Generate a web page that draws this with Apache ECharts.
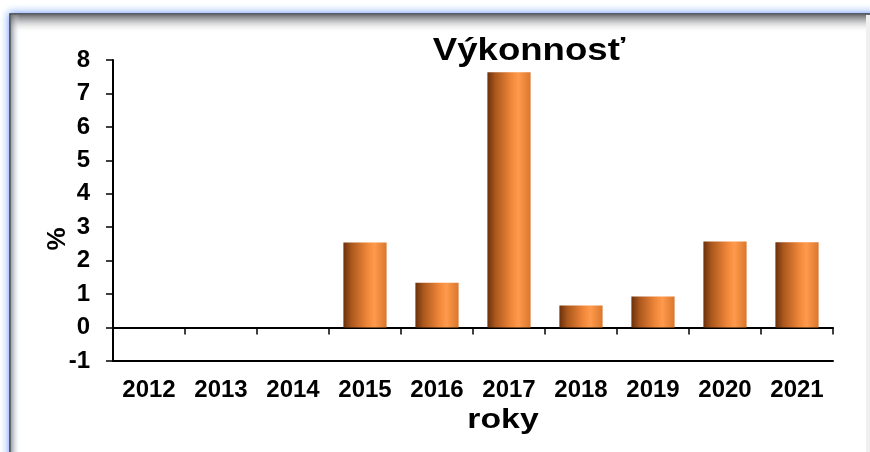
<!DOCTYPE html>
<html><head><meta charset="utf-8">
<script src="https://cdn.jsdelivr.net/npm/echarts@6/dist/echarts.min.js"></script>
<style>html,body{margin:0;padding:0;background:#fff}#c{width:870px;height:452px}</style>
</head><body><div id="c"></div>
<script>
var years = ['2012','2013','2014','2015','2016','2017','2018','2019','2020','2021'];
var vykonnost = [0, 0, 0, 2.54, 1.34, 7.63, 0.66, 0.93, 2.57, 2.55];
var yTicks = [-1, 0, 1, 2, 3, 4, 5, 6, 7, 8];
var titleText = 'Výkonnosť';
var xName = 'roky';
var yName = '%';

var chart = echarts.init(document.getElementById('c'), null, {renderer: 'canvas'});
var font = 'Arial, "Liberation Sans", sans-serif';
var barGrad = new echarts.graphic.LinearGradient(0, 0, 1, 0, [
  {offset: 0, color: '#6a300c'},
  {offset: 0.18, color: '#a9561c'},
  {offset: 0.55, color: '#f0873a'},
  {offset: 0.72, color: '#ff9a4c'},
  {offset: 1, color: '#d9772e'}
]);
chart.setOption({
  animation: false,
  graphic: [
    {type: 'rect', z: -10, shape: {x: 10, y: 14, width: 880, height: 460},
     style: {fill: '#fff', stroke: '#3a3a3a', lineWidth: 1.5, shadowBlur: 8, shadowColor: 'rgba(90,140,255,0.95)'}},
    {type: 'rect', z: -9, shape: {x: 11, y: 15, width: 880, height: 18},
     style: {fill: new echarts.graphic.LinearGradient(0, 0, 0, 1, [
       {offset: 0, color: 'rgba(100,100,100,0.9)'}, {offset: 1, color: 'rgba(255,255,255,0)'}])}},
    {type: 'rect', z: -9, shape: {x: 11, y: 15, width: 9, height: 460},
     style: {fill: new echarts.graphic.LinearGradient(0, 0, 1, 0, [
       {offset: 0, color: 'rgba(110,110,110,0.6)'}, {offset: 1, color: 'rgba(255,255,255,0)'}])}},
    {type: 'rect', z: -9, shape: {x: 866, y: 15, width: 4, height: 440},
     style: {fill: '#f0f0f0'}},
    {type: 'text', z: 10, x: 529, y: 51, scaleX: 1.18, originX: 0, originY: 0,
     style: {text: titleText, font: 'bold 31px ' + font, fill: '#000', textAlign: 'center', textVerticalAlign: 'middle'}},
    {type: 'text', z: 10, x: 503, y: 421, scaleX: 1.25, originX: 0, originY: 0,
     style: {text: xName, font: 'bold 27px ' + font, fill: '#000', textAlign: 'center', textVerticalAlign: 'middle'}},
    {type: 'text', z: 10, x: 58, y: 239, rotation: Math.PI / 2, originX: 0, originY: 0,
     style: {text: yName, font: 'bold 26px ' + font, fill: '#000', textAlign: 'center', textVerticalAlign: 'middle'}}
  ],
  grid: {left: 113, right: 37, top: 60, bottom: 91, containLabel: false},
  xAxis: [
    {type: 'category', data: years, axisLine: {onZero: true, lineStyle: {color: '#000', width: 2}},
     axisTick: {show: true, length: 7, lineStyle: {color: '#000', width: 1.5}}, axisLabel: {show: false}},
    {type: 'category', data: years, position: 'bottom', axisLine: {onZero: false, lineStyle: {color: '#000', width: 2}},
     axisTick: {show: false},
     axisLabel: {show: true, margin: 17, fontFamily: font, fontWeight: 'bold', fontSize: 24, color: '#000'}}
  ],
  yAxis: {type: 'value', min: yTicks[0], max: yTicks[yTicks.length - 1], interval: 1,
    axisLine: {show: true, lineStyle: {color: '#000', width: 2}},
    axisTick: {show: true, length: 7, lineStyle: {color: '#000', width: 1.5}},
    splitLine: {show: false},
    axisLabel: {margin: 23, fontFamily: font, fontWeight: 'bold', fontSize: 24, color: '#000'}},
  series: [{
    type: 'bar', xAxisIndex: 0, data: vykonnost, barWidth: '60%',
    itemStyle: {color: barGrad, borderWidth: 0}
  }]
});
</script></body></html>
